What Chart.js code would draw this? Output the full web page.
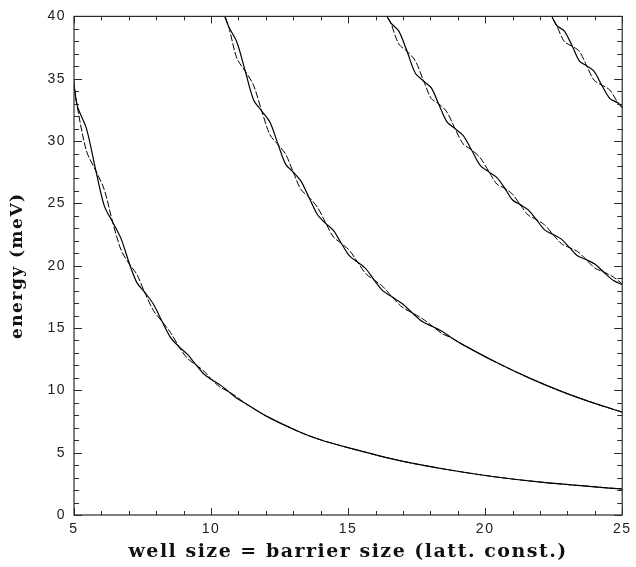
<!DOCTYPE html>
<html>
<head>
<meta charset="utf-8">
<script src="https://cdn.jsdelivr.net/npm/chart.js@4.4.1/dist/chart.umd.min.js"></script>
<style>
  html, body { margin: 0; padding: 0; background: #ffffff; }
  #wrap { width: 636px; height: 567px; position: relative; }
</style>
</head>
<body>
<div id="wrap"><canvas id="chart"></canvas></div>
<script>
// Four minibands; each is a pair of curves (A solid, B dashed) that braid round each other.
// x = well size = barrier size (lattice constants), y = energy (meV)

const band1X = [4.95, 5.11, 5.455, 5.80, 6.105, 6.41, 6.72, 7.03, 7.30, 7.57, 7.90, 8.22, 8.52, 8.83, 9.14, 9.45, 9.74, 10.03, 10.33, 10.64, 10.95, 11.26, 12.0, 13.17, 13.9, 15.0, 16.8, 18.6, 20.4, 22.2, 25.0];
const band1A = [35.6, 32.9, 31.0, 27.6, 24.8, 23.5, 22.15, 20.1, 18.62, 17.9, 16.91, 15.5, 14.25, 13.5, 12.88, 12.05, 11.30, 10.85, 10.44, 9.9, 9.34, 8.94, 7.95, 6.72, 6.1, 5.4, 4.4, 3.65, 3.05, 2.6, 2.08];
const band1B = [35.6, 32.9, 29.2, 27.6, 26.1, 23.5, 21.25, 20.1, 19.28, 17.9, 16.39, 15.5, 14.65, 13.5, 12.56, 12.05, 11.54, 10.85, 10.26, 9.9, 9.46, 8.94, 7.95, 6.72, 6.1, 5.4, 4.4, 3.65, 3.05, 2.6, 2.08];

const band2X = [10.40, 10.64, 10.94, 11.25, 11.55, 11.85, 12.15, 12.45, 12.72, 13.0, 13.28, 13.57, 13.88, 14.2, 14.47, 14.75, 15.05, 15.34, 15.65, 15.95, 16.27, 16.6, 16.97, 17.35, 17.72, 18.1, 18.44, 18.78, 19.2, 20.4, 21.6, 22.8, 24.0, 25.0];
const band2A = [40.6, 39.2, 37.95, 35.6, 33.32, 32.4, 31.5, 29.7, 28.15, 27.5, 26.79, 25.5, 24.11, 23.35, 22.81, 21.8, 20.78, 20.3, 19.75, 18.85, 17.98, 17.5, 16.96, 16.2, 15.5, 15.1, 14.72, 14.2, 13.65, 12.25, 11.0, 9.9, 8.95, 8.25];
const band2B = [40.6, 39.2, 36.65, 35.6, 34.48, 32.4, 30.5, 29.7, 28.95, 27.5, 26.11, 25.5, 24.69, 23.35, 22.29, 21.8, 21.22, 20.3, 19.35, 18.85, 18.32, 17.5, 16.68, 16.2, 15.74, 15.1, 14.54, 14.2, 13.65, 12.25, 11.0, 9.9, 8.95, 8.25];

const band3X = [16.30, 16.55, 16.85, 17.15, 17.45, 17.76, 18.03, 18.3, 18.6, 18.9, 19.2, 19.5, 19.82, 20.15, 20.43, 20.72, 21.0, 21.28, 21.57, 21.87, 22.17, 22.48, 22.78, 23.08, 23.38, 23.68, 24.0, 24.32, 24.68, 25.05];
const band3A = [40.5, 39.5, 38.82, 37.2, 35.46, 34.8, 34.28, 33.0, 31.56, 31.0, 30.44, 29.3, 28.05, 27.5, 27.06, 26.2, 25.27, 24.9, 24.48, 23.7, 22.87, 22.5, 22.13, 21.45, 20.78, 20.5, 20.13, 19.5, 18.81, 18.45];
const band3B = [40.5, 39.5, 37.78, 37.2, 36.44, 34.8, 33.42, 33.0, 32.34, 31.0, 29.76, 29.3, 28.65, 27.5, 26.54, 26.2, 25.73, 24.9, 24.06, 23.7, 23.27, 22.5, 21.77, 21.45, 21.12, 20.5, 19.81, 19.5, 19.09, 18.45];

const band4X = [22.35, 22.6, 22.89, 23.18, 23.44, 23.7, 23.97, 24.25, 24.55, 24.85, 25.1];
const band4A = [40.4, 39.3, 38.82, 37.6, 36.41, 36.05, 35.61, 34.5, 33.41, 33.05, 32.45];
const band4B = [40.4, 39.3, 37.98, 37.6, 37.19, 36.05, 34.89, 34.5, 34.09, 33.05, 32.45];

// Axis ranges and tick labels
const xMin = 5, xMax = 25, xStep = 5;
const yMin = 0, yMax = 40, yStep = 5;

const labelFont = { family: 'Liberation Sans', size: 14 };
const xTitleFont = { family: 'DejaVu Serif', size: 19, weight: 'bold' };
const yTitleFont = { family: 'DejaVu Serif', size: 17, weight: 'bold' };

function pairs(xs, ys) {
    return xs.map((x, i) => ({ x: x, y: ys[i] }));
}

function solid(xs, ys) {
    return {
        data: pairs(xs, ys),
        borderColor: '#000',
        borderWidth: 1.2,
        pointRadius: 0,
        tension: 0.3,
        fill: false
    };
}

function dashed(xs, ys) {
    return {
        data: pairs(xs, ys),
        borderColor: '#000',
        borderWidth: 1,
        borderDash: [7, 2],
        pointRadius: 0,
        tension: 0.3,
        fill: false
    };
}

// Wide, typewriter-like spacing of all the text in the original
const spacedText = {
    id: 'spacedText',
    beforeDraw(chart) {
        chart.ctx.letterSpacing = '1.5px';
    }
};

// Frame round the plot with small inward ticks on all four sides
const frameTicks = {
    id: 'frameTicks',
    afterDatasetsDraw(chart) {
        const { ctx, chartArea: a, scales: { x, y } } = chart;
        ctx.save();
        ctx.strokeStyle = '#2a2a2a';
        ctx.lineWidth = 1.2;
        ctx.strokeRect(a.left, a.top, a.right - a.left, a.bottom - a.top);
        ctx.lineWidth = 1;
        ctx.beginPath();
        for (let v = xMin; v <= xMax; v++) {
            const px = Math.round(x.getPixelForValue(v)) + 0.5;
            const len = v % 5 === 0 ? 7 : 4;
            ctx.moveTo(px, a.bottom); ctx.lineTo(px, a.bottom - len);
            ctx.moveTo(px, a.top); ctx.lineTo(px, a.top + len);
        }
        for (let v = yMin; v <= yMax; v++) {
            const py = Math.round(y.getPixelForValue(v)) + 0.5;
            const len = v % 5 === 0 ? 8 : 5;
            ctx.moveTo(a.left, py); ctx.lineTo(a.left + len, py);
            ctx.moveTo(a.right, py); ctx.lineTo(a.right - len, py);
        }
        ctx.stroke();
        ctx.restore();
    }
};

new Chart(document.getElementById('chart'), {
    type: 'line',
    data: {
        datasets: [
            solid(band1X, band1A), dashed(band1X, band1B),
            solid(band2X, band2A), dashed(band2X, band2B),
            solid(band3X, band3A), dashed(band3X, band3B),
            solid(band4X, band4A), dashed(band4X, band4B)
        ]
    },
    options: {
        responsive: true,
        maintainAspectRatio: false,
        animation: false,
        layout: { padding: { top: 13, right: 9, left: 0, bottom: 0 } },
        plugins: {
            legend: { display: false },
            tooltip: { enabled: false }
        },
        scales: {
            x: {
                type: 'linear',
                min: xMin,
                max: xMax,
                grid: { display: false, drawTicks: false },
                border: { display: false },
                ticks: { stepSize: xStep, color: '#222', font: labelFont, padding: 6, maxRotation: 0 },
                title: {
                    display: true,
                    text: 'well size = barrier size (latt. const.)',
                    color: '#111',
                    font: xTitleFont,
                    padding: { top: 0, bottom: 4 }
                },
                afterFit(scale) { scale.height = 52; }
            },
            y: {
                min: yMin,
                max: yMax,
                grid: { display: false, drawTicks: false },
                border: { display: false },
                ticks: { stepSize: yStep, color: '#222', font: labelFont, padding: 8 },
                title: {
                    display: true,
                    text: 'energy (meV)',
                    color: '#111',
                    font: yTitleFont,
                    padding: { top: 7, bottom: 0 }
                },
                afterFit(scale) { scale.width = 74; }
            }
        }
    },
    plugins: [spacedText, frameTicks]
});
</script>
</body>
</html>
